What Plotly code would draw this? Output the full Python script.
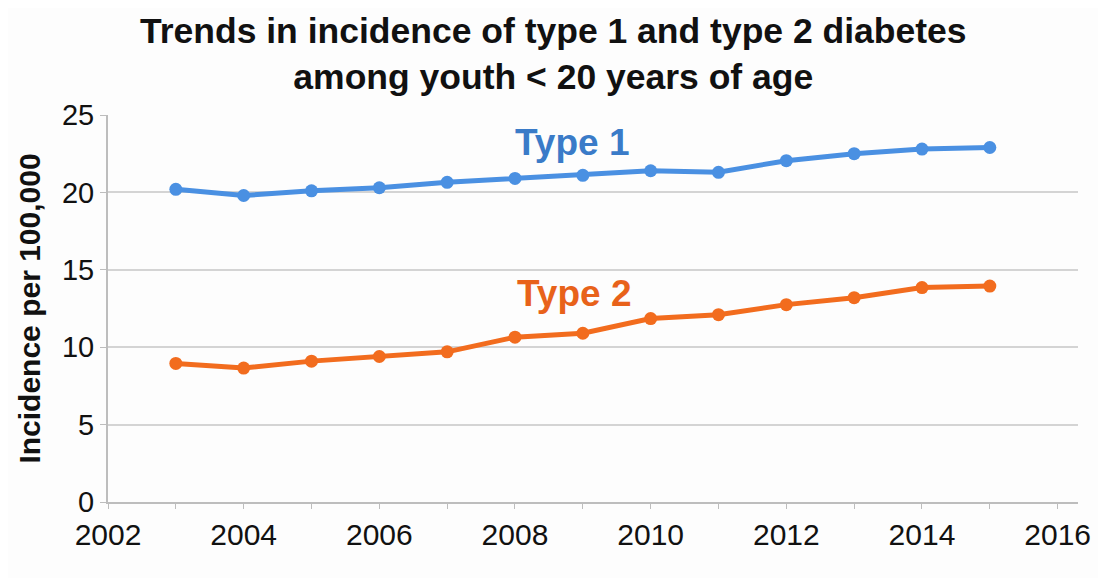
import plotly.graph_objects as go

years = [2003, 2004, 2005, 2006, 2007, 2008, 2009, 2010, 2011, 2012, 2013, 2014, 2015]
type1 = [20.2, 19.8, 20.1, 20.3, 20.65, 20.9, 21.1, 21.4, 21.3, 22.05, 22.5, 22.8, 22.9]
type2 = [8.95, 8.65, 9.1, 9.4, 9.7, 10.65, 10.9, 11.85, 12.1, 12.75, 13.2, 13.85, 13.95]
series_names = ["Type 1", "Type 2"]
line_colors = ["#4A90E2", "#F26C1E"]
label_colors = ["#3A7BC8", "#E8621A"]
x_ticks = [2002, 2004, 2006, 2008, 2010, 2012, 2014, 2016]
y_ticks = [0, 5, 10, 15, 20, 25]
title_text = "Trends in incidence of type 1 and type 2 diabetes<br>among youth &lt; 20 years of age"
y_title = "Incidence per 100,000"

fig = go.Figure()
for name, vals, col in zip(series_names, [type1, type2], line_colors):
    fig.add_trace(go.Scatter(
        x=years, y=vals, mode="lines+markers", name=name,
        line=dict(color=col, width=5),
        marker=dict(color=col, size=13),
        showlegend=False,
    ))

fig.add_annotation(x=2008.84, y=23.25, text="<b>Type 1</b>", showarrow=False,
                   font=dict(size=37, color=label_colors[0]))
fig.add_annotation(x=2008.87, y=13.45, text="<b>Type 2</b>", showarrow=False,
                   font=dict(size=37, color=label_colors[1]))

fig.add_annotation(xref="paper", yref="paper", x=0.4588, y=1.158,
                   xanchor="center", yanchor="middle", showarrow=False,
                   text="<b>" + title_text + "</b>",
                   font=dict(size=35.5, color="#111111"))

fig.update_layout(
    width=1106, height=578,
    margin=dict(l=100, r=36, t=107, b=84),
    paper_bgcolor="#FDFDFD", plot_bgcolor="#FDFDFD",
    font=dict(family="Liberation Sans, Arial", color="#111111"),
    xaxis=dict(
        range=[2002, 2016.3], tickvals=x_ticks, ticktext=[str(v) for v in x_ticks],
        showgrid=False, zeroline=False,
        showline=True, linecolor="#BDBDBD", linewidth=2,
        ticks="outside", ticklen=5, tickcolor="#BDBDBD", tickwidth=1,
        minor=dict(dtick=1, tick0=2002, ticks="outside", ticklen=5, tickcolor="#BDBDBD", showgrid=False),
        tickfont=dict(size=30, color="#111111"),
    ),
    yaxis=dict(
        range=[0, 25], tickvals=y_ticks,
        showgrid=True, gridcolor="#D4D4D4", gridwidth=1.5, zeroline=False,
        showline=True, linecolor="#BDBDBD", linewidth=2,
        ticks="outside", ticklen=6, tickcolor="#BDBDBD",
        tickfont=dict(size=29, color="#111111"),
        title=dict(text="<b>" + y_title + "</b>", font=dict(size=30, color="#111111"), standoff=12),
    ),
)
fig.write_html("out.html")
